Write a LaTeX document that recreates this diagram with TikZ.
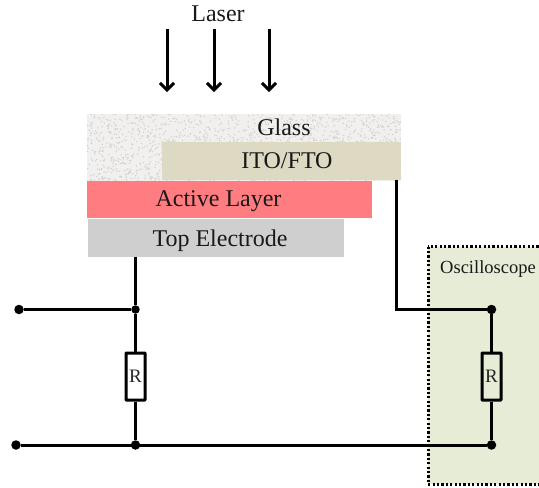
\documentclass[tikz,border=0pt]{standalone}
\usepackage[usenames,dvipsnames,svgnames,table]{xcolor}
\usepackage{fontspec}
\setmainfont{Liberation Serif}
\usetikzlibrary{arrows.meta}

\definecolor{glassgray}{HTML}{F1F0EE}
\definecolor{specklegray}{HTML}{D2D1CE}
\definecolor{itotan}{HTML}{DDD9C3}
\definecolor{activered}{HTML}{FF7C80}
\definecolor{electrodegray}{HTML}{CFCFCF}
\definecolor{scopegreen}{HTML}{E6ECD6}

\tikzset{
	layer/.style={inner sep=0, outer sep=0},
	caption/.style={anchor=base, inner sep=0, text=black!90, font=\fontsize{24}{26}\selectfont},
	dot/.style={circle, fill=black, inner sep=0, minimum size=9.5},
	resistor/.style={draw, line width=3, rounded corners=0.5, inner sep=0, minimum width=19, minimum height=47, text=black!85, font=\fontsize{19}{20}\selectfont},
	wire/.style={line width=3},
	beam/.style={-{Straight Barb[length=7,width=14,line width=3]}, line width=3}
}

\begin{document}
\begin{tikzpicture}[x=1pt,y=-1pt]
	\useasboundingbox (0,0) rectangle (539,488);

	% sample stack
	\node [layer, fill=glassgray, minimum width=314, minimum height=67] (glass) at (244,147.5) {};
	\pgfmathsetseed{42}
	\begin{scope}
		\clip (glass.south west) rectangle (glass.north east);
		\foreach \i in {1,...,1500}
			\fill [specklegray] ({87+314*rnd},{114+67*rnd}) circle [radius=0.8];
	\end{scope}
	\node [layer, fill=itotan, minimum width=239, minimum height=38] (ito) at (281.5,161) {};
	\node [layer, fill=activered, minimum width=285, minimum height=37] (active) at (229.5,199.5) {};
	\node [layer, fill=electrodegray, minimum width=256, minimum height=38] (electrode) at (216,238) {};

	\node [caption] (glasstext) at (284,135) {Glass};
	\node [caption] (itotext) at (287,168) {ITO/FTO};
	\node [caption] (activetext) at (218.5,206) {Active Layer};
	\node [caption] (electrodetext) at (220,246) {Top Electrode};

	% laser
	\node [caption] (laser) at (218,21) {Laser};
	\coordinate (a1) at (167,29);
	\coordinate (a2) at (214,29);
	\coordinate (a3) at (269,29);
	\coordinate (b1) at (167,92);
	\coordinate (b2) at (214,92);
	\coordinate (b3) at (269,92);
	\draw [beam] (a1) -- (b1);
	\draw [beam] (a2) -- (b2);
	\draw [beam] (a3) -- (b3);

	% oscilloscope
	\draw [line width=3, dash pattern=on 2.2 off 2.2, fill=scopegreen] (428,246.5) rectangle (545,484);
	\node [caption, font=\fontsize{18.5}{20}\selectfont] (scope) at (488,273) {Oscilloscope};

	% left circuit
	\node [dot] (d1) at (19,309.5) {};
	\node [dot, minimum size=8.5] (d2) at (135.5,309.5) {};
	\node [dot] (d3) at (16,445) {};
	\node [dot] (d4) at (135.5,445) {};
	\node [resistor, fill=white] (r1) at (135.5,376.5) {R};
	\coordinate (t1) at (135.5,257);
	\draw [wire] (t1) -- (d2);
	\draw [wire] (d1) -- (d2);
	\draw [wire] (d2) -- (r1);
	\draw [wire] (r1) -- (d4);

	% right circuit
	\node [dot] (d5) at (491.5,309.5) {};
	\node [dot] (d6) at (491.5,445) {};
	\node [resistor] (r2) at (491.5,376.5) {R};
	\coordinate (t2) at (396.5,180);
	\coordinate (t3) at (396.5,309.5);
	\draw [wire] (t2) -- (t3) -- (d5);
	\draw [wire] (d5) -- (r2);
	\draw [wire] (r2) -- (d6);
	\draw [wire] (d3) -- (d6);

\end{tikzpicture}
\end{document}
